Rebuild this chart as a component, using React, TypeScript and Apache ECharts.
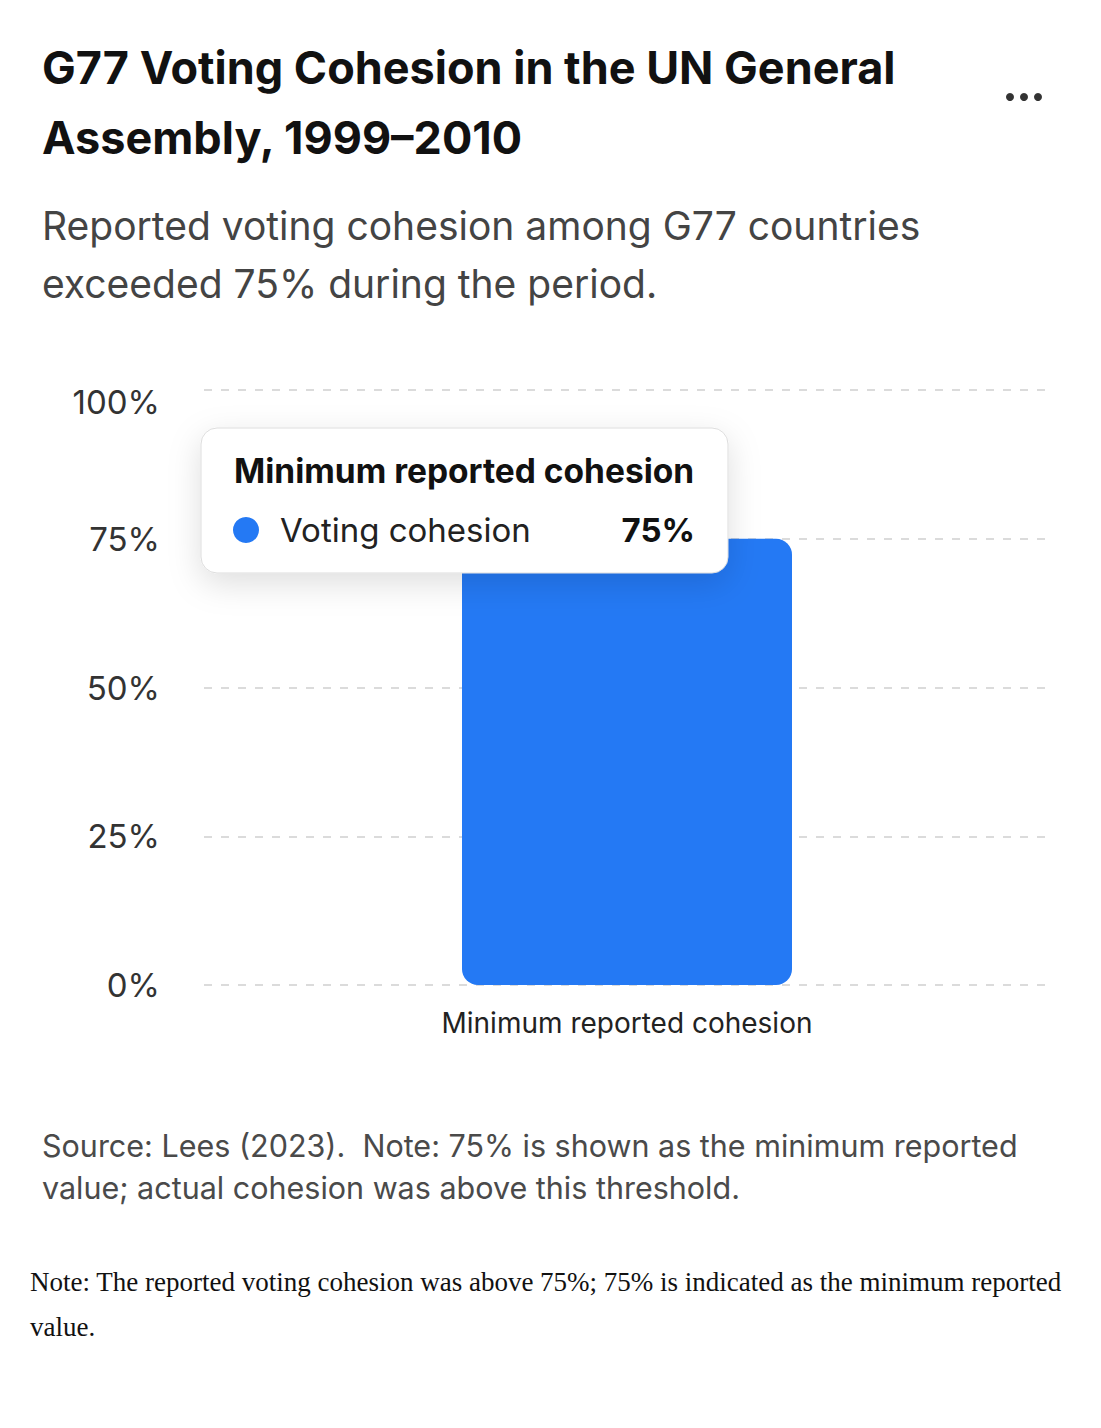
import React, { useEffect, useRef } from "react";
import * as echarts from "echarts";

const titleLines = ["G77 Voting Cohesion in the UN General", "Assembly, 1999–2010"];
const subtitleLines = ["Reported voting cohesion among G77 countries", "exceeded 75% during the period."];
const sourceLines = [
  "Source: Lees (2023).  Note: 75% is shown as the minimum reported",
  "value; actual cohesion was above this threshold.",
];
const noteText =
  "Note: The reported voting cohesion was above 75%; 75% is indicated as the minimum reported value.";

const categories = ["Minimum reported cohesion"];
const seriesName = "Voting cohesion";
const cohesionValues = [75];
const yTicks = [0, 25, 50, 75, 100];

const BAR_COLOR = "#2479F4";
const FONT = "Inter, 'Noto Sans', sans-serif";

function Chart() {
  const ref = useRef<HTMLDivElement>(null);
  useEffect(() => {
    if (!ref.current) return;
    const chart = echarts.init(ref.current, undefined, { renderer: "svg" });
    const tipX = 193;
    const tipY = 420;
    chart.setOption({
      animation: false,
      backgroundColor: "#ffffff",
      textStyle: { fontFamily: FONT },
      title: [
        {
          text: titleLines.join("\n"),
          left: 34,
          top: 24,
          padding: 0,
          textStyle: { fontSize: 45, fontWeight: 700, color: "#111111", lineHeight: 70, fontFamily: FONT },
        },
        {
          text: subtitleLines.join("\n"),
          left: 34,
          top: 188,
          padding: 0,
          textStyle: { fontSize: 39, fontWeight: 400, color: "#444444", lineHeight: 58, fontFamily: FONT },
        },
        {
          text: sourceLines.join("\n"),
          left: 34,
          top: 1116,
          padding: 0,
          textStyle: { fontSize: 30.5, fontWeight: 400, color: "#4a4a4a", lineHeight: 42, fontFamily: FONT },
        },
      ],
      grid: { left: 196, right: 43, top: 382, bottom: 253, containLabel: false },
      xAxis: {
        type: "category",
        data: categories,
        axisLine: { show: false },
        axisTick: { show: false },
        axisLabel: { fontSize: 28, color: "#222222", margin: 24, fontFamily: FONT },
      },
      yAxis: {
        type: "value",
        min: yTicks[0],
        max: yTicks[yTicks.length - 1],
        interval: 25,
        axisLine: { show: false },
        axisTick: { show: false },
        axisLabel: {
          margin: 44,
          formatter: (v: number) => (v === yTicks[yTicks.length - 1] ? `{top|${v}%}` : `{n|${v}%}`),
          rich: {
            n: { fontSize: 33, color: "#333333", fontFamily: FONT },
            top: { fontSize: 33, color: "#333333", fontFamily: FONT, padding: [24, 0, 0, 0] },
          },
        },
        splitLine: {
          show: true,
          lineStyle: { color: "#cfcfcf", width: 1.5, type: [8, 9] },
        },
      },
      series: [
        {
          name: seriesName,
          type: "bar",
          data: cohesionValues,
          barWidth: 330,
          itemStyle: { color: BAR_COLOR, borderRadius: 16 },
          z: 2,
        },
      ],
      graphic: [
        { type: "circle", shape: { cx: 1002, cy: 89, r: 4 }, style: { fill: "#333333" } },
        { type: "circle", shape: { cx: 1016, cy: 89, r: 4 }, style: { fill: "#333333" } },
        { type: "circle", shape: { cx: 1030, cy: 89, r: 4 }, style: { fill: "#333333" } },
        {
          type: "group",
          z: 100,
          children: [
            {
              type: "rect",
              shape: { x: tipX, y: tipY, width: 527, height: 145, r: 16 },
              style: {
                fill: "#ffffff",
                stroke: "#dddddd",
                lineWidth: 1,
                shadowBlur: 32,
                shadowColor: "rgba(0,0,0,0.13)",
                shadowOffsetY: 10,
              },
              z: 100,
            },
            {
              type: "text",
              x: tipX + 33,
              y: tipY + 43,
              z: 101,
              style: {
                text: categories[0],
                fontSize: 33.5,
                fontWeight: 700,
                fill: "#111111",
                fontFamily: FONT,
                verticalAlign: "middle",
                align: "left",
              },
            },
            {
              type: "circle",
              z: 101,
              shape: { cx: tipX + 45, cy: tipY + 102, r: 13 },
              style: { fill: BAR_COLOR },
            },
            {
              type: "text",
              x: tipX + 79,
              y: tipY + 102,
              z: 101,
              style: {
                text: seriesName,
                fontSize: 33,
                fontWeight: 400,
                fill: "#222222",
                fontFamily: FONT,
                verticalAlign: "middle",
                align: "left",
              },
            },
            {
              type: "text",
              x: tipX + 494,
              y: tipY + 102,
              z: 101,
              style: {
                text: `${cohesionValues[0]}%`,
                fontSize: 33,
                fontWeight: 700,
                fill: "#111111",
                fontFamily: FONT,
                verticalAlign: "middle",
                align: "right",
              },
            },
          ],
        },
      ],
    });
    return () => chart.dispose();
  }, []);
  return <div ref={ref} style={{ width: 1085, height: 1230 }} />;
}

export default function App() {
  return (
    <div style={{ background: "#ffffff" }}>
      <Chart />
      <div style={{ paddingTop: 22, paddingLeft: 22, fontSize: 27, lineHeight: "45px", color: "#111111" }}>
        {noteText}
      </div>
    </div>
  );
}
